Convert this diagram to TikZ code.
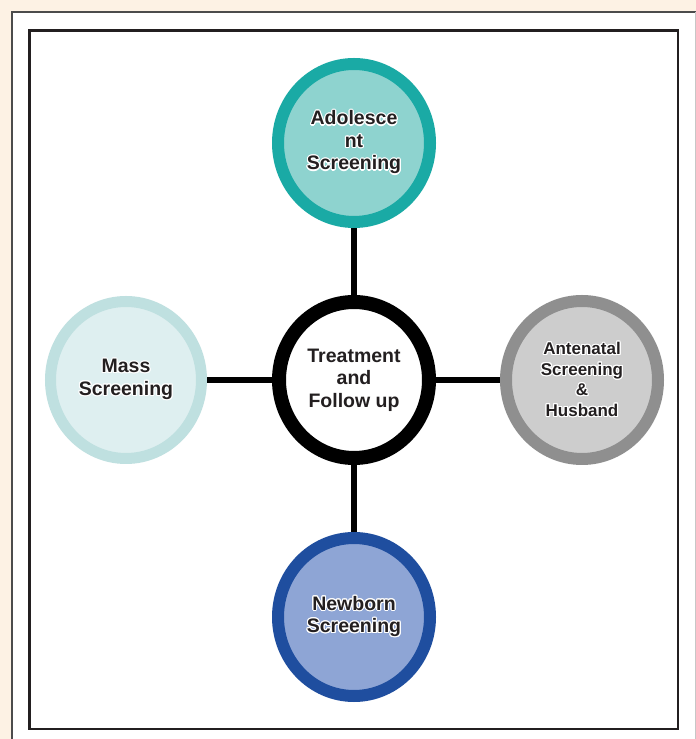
\documentclass[tikz,border=0pt]{standalone}
\usepackage{fontspec}
\setmainfont{Liberation Sans}
\usepackage[copies]{contour}
\contourlength{1.1pt}
\usetikzlibrary{shapes.geometric}

\definecolor{paper}{HTML}{FDF2E4}
\definecolor{ink}{HTML}{231F20}
\definecolor{tealring}{HTML}{1AAAA5}
\definecolor{tealfill}{HTML}{8ED3CF}
\definecolor{grayring}{HTML}{8F8F8F}
\definecolor{grayfill}{HTML}{CDCDCD}
\definecolor{mistring}{HTML}{BFE0E0}
\definecolor{mistfill}{HTML}{DEEFF0}
\definecolor{bluering}{HTML}{1F4E9F}
\definecolor{bluefill}{HTML}{8EA5D5}

% white halo round the labels of the coloured discs
\newcommand{\halo}[1]{\contour{white}{#1}}

\begin{document}
\begin{tikzpicture}[x=1pt,y=1pt,
  disc/.style={ellipse,draw=#1ring,fill=#1fill,line width=12pt,inner sep=0pt,
    minimum width=152pt,minimum height=158pt,align=center,text=ink,
    font=\bfseries\fontsize{19.5}{22.5}\selectfont},
  link/.style={line width=6pt,black}]
  \useasboundingbox (0,0) rectangle (696,739);
  % page and frames
  \fill[paper] (0,0) rectangle (696,739);
  \fill[white] (11,-5) rectangle (696,728);
  \draw[line width=2pt,black!70] (12,-5) -- (12,727) -- (696,727);
  \draw[line width=1pt,black!22] (695.5,727) -- (695.5,-5);
  \draw[line width=2.2pt,ink] (29.5,708.5) rectangle (678,10);

  % the five discs
  \node[ellipse,draw=black,fill=white,line width=14pt,inner sep=0pt,minimum width=150pt,minimum height=156pt,align=center,text=ink,font=\bfseries\fontsize{19.5}{22.5}\selectfont] (care) at (354,359) {Treatment\\and\\Follow up};
  \node[disc=teal] (teen) at (354,596) {\halo{Adolesce}\\\halo{nt}\\\halo{Screening}};
  \node[disc=blue] (newborn) at (354,122) {\halo{Newborn}\\\halo{Screening}};
  \node[disc=mist,line width=11pt,minimum width=151pt,minimum height=157pt] (mass) at (126,359) {\halo{Mass}\\\halo{Screening}};
  \node[disc=gray,font=\bfseries\fontsize{17}{20.5}\selectfont] (antenatal) at (582,359) {\halo{Antenatal}\\\halo{Screening}\\\halo{\&}\\\halo{Husband}};

  % spokes
  \draw[link] (care) -- (teen);
  \draw[link] (care) -- (newborn);
  \draw[link] (care) -- (mass);
  \draw[link] (care) -- (antenatal);
\end{tikzpicture}
\end{document}
